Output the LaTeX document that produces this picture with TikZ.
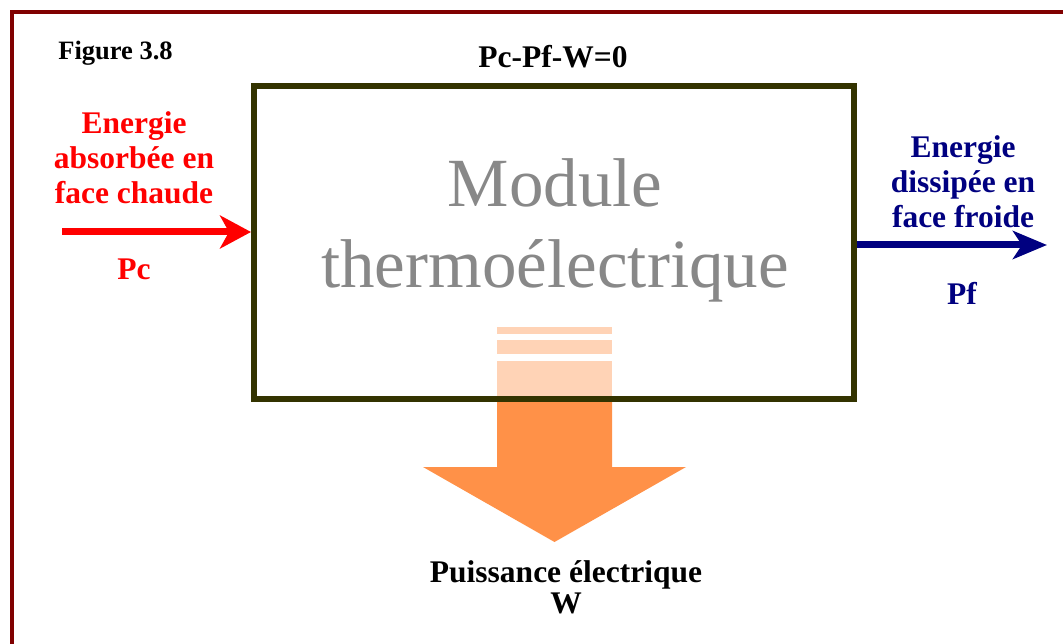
\documentclass[tikz,border=0pt]{standalone}
\usepackage{fontspec}
\setmainfont{Liberation Serif}
\usetikzlibrary{arrows.meta,calc}

\definecolor{cadre}{HTML}{800000}
\definecolor{olive}{HTML}{333300}
\definecolor{orangeW}{HTML}{FF9148}
\definecolor{orangeclair}{HTML}{FFD3B6}
\definecolor{bleu}{HTML}{000080}
\definecolor{grismodule}{HTML}{888888}

\tikzset{
  texte/.style={font=\fontsize{31.5}{35}\selectfont\bfseries, align=center, inner sep=0pt},
  grand/.style={font=\fontsize{69}{80}\selectfont, text=grismodule, inner sep=0pt, anchor=base},
  flux/.style={line width=7pt}
}

\begin{document}
\begin{tikzpicture}[x=1pt, y=-1pt, line join=miter]
        \useasboundingbox (0,0) rectangle (1063,644);
        
        % cadre de la figure
        \draw[cadre, line width=4pt] (12,700) -- (12,12) -- (1100,12);
        \node[texte, font=\fontsize{26.5}{30}\selectfont\bfseries, anchor=base] (fig) at (115.5,60) {Figure 3.8};
        
        % fleche de puissance electrique (sous le module)
        \coordinate (W0) at (554.5,399);
        \foreach \ya/\yb in {327/334, 340/354, 361/399}
            \fill[orangeclair] (497,\ya) rectangle (612,\yb);
        \fill[orangeW] (497,399) -- (497,467) -- (423,467) -- (554.5,542)
            -- (686,467) -- (612,467) -- (612,399) -- cycle;
        
        % module
        \node[draw=olive, line width=6pt, minimum width=600pt, minimum height=313pt] (module) at (554,242.5) {};
        \node[grand] (mod1) at (555,207) {Module};
        \node[grand] (mod2) at (555,288) {thermoélectrique};
        \node[texte, anchor=base] (bilan) at (553,68) {Pc-Pf-W=0};
        
        % face chaude
        \coordinate (pcin) at (62,232);
        \draw[red, flux, -{Stealth[length=31pt, width=33pt, inset=9pt]}] (pcin) -- (pcin -| module.west);
        \node[texte, red] (chaud) at (134,158) {Energie\\absorbée en\\face chaude};
        \node[texte, red, anchor=base] (pc) at (134,280) {Pc};
        
        % face froide
        \coordinate (pfout) at (1047,245);
        \draw[bleu, flux, -{Stealth[length=34pt, width=28pt, inset=9pt]}] (pfout -| module.east) -- (pfout);
        \node[texte, bleu] (froid) at (963,182) {Energie\\dissipée en\\face froide};
        \node[texte, bleu, anchor=base] (pf) at (962,305) {Pf};
        
        % sortie electrique
        \node[texte, font=\fontsize{31.5}{31}\selectfont\bfseries, anchor=base] (puiss) at (566,613) {Puissance électrique\\W};
\end{tikzpicture}
\end{document}
